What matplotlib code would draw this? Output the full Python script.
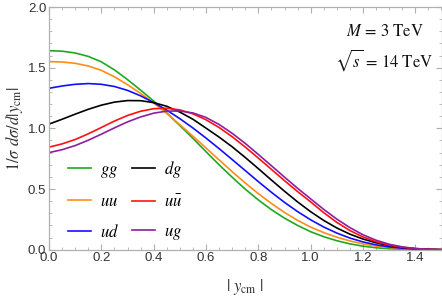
import matplotlib
matplotlib.use("Agg")
import matplotlib.pyplot as plt
from matplotlib.ticker import MultipleLocator

plt.rcParams['mathtext.fontset'] = 'stix'
plt.rcParams['font.family'] = ['Liberation Sans', 'DejaVu Sans']

y_cm = [0.00, 0.05, 0.10, 0.15, 0.20, 0.25, 0.30, 0.35, 0.40, 0.45, 0.50,
        0.55, 0.60, 0.65, 0.70, 0.75, 0.80, 0.85, 0.90, 0.95, 1.00,
        1.05, 1.10, 1.15, 1.20, 1.25, 1.30, 1.35, 1.40, 1.45, 1.50]

gg = [1.640, 1.636, 1.621, 1.593, 1.548, 1.482, 1.402, 1.315, 1.225, 1.128, 1.023,
      0.918, 0.808, 0.700, 0.597, 0.499, 0.410, 0.330, 0.260, 0.200, 0.148,
      0.107, 0.074, 0.048, 0.029, 0.016, 0.008, 0.004, 0.002, 0.001, 0.000]
uu = [1.550, 1.547, 1.536, 1.514, 1.478, 1.425, 1.360, 1.288, 1.209, 1.123, 1.030,
      0.935, 0.838, 0.740, 0.643, 0.550, 0.462, 0.381, 0.307, 0.242, 0.186,
      0.141, 0.103, 0.072, 0.048, 0.030, 0.018, 0.010, 0.005, 0.002, 0.001]
ud = [1.330, 1.349, 1.363, 1.369, 1.363, 1.345, 1.313, 1.268, 1.213, 1.150, 1.080,
      1.003, 0.920, 0.833, 0.743, 0.652, 0.561, 0.473, 0.390, 0.314, 0.246,
      0.187, 0.137, 0.096, 0.064, 0.040, 0.023, 0.012, 0.005, 0.002, 0.000]
dg = [1.035, 1.075, 1.117, 1.157, 1.191, 1.216, 1.229, 1.228, 1.212, 1.182, 1.134,
      1.075, 1.002, 0.928, 0.848, 0.760, 0.668, 0.574, 0.482, 0.394, 0.313,
      0.241, 0.179, 0.128, 0.088, 0.057, 0.034, 0.018, 0.008, 0.003, 0.000]
uubar = [0.845, 0.872, 0.908, 0.955, 1.007, 1.060, 1.106, 1.141, 1.162, 1.166, 1.152,
         1.120, 1.071, 1.007, 0.931, 0.846, 0.755, 0.662, 0.569, 0.479, 0.394,
         0.305, 0.225, 0.158, 0.105, 0.066, 0.038, 0.020, 0.009, 0.003, 0.000]
ug = [0.800, 0.824, 0.858, 0.902, 0.952, 1.004, 1.053, 1.094, 1.125, 1.142, 1.143,
      1.127, 1.090, 1.032, 0.959, 0.876, 0.785, 0.692, 0.598, 0.506, 0.419,
      0.332, 0.252, 0.182, 0.123, 0.078, 0.045, 0.023, 0.010, 0.003, 0.000]

series = [
    (r'$gg$', gg, '#1fa81f'),
    (r'$uu$', uu, '#ff8c1a'),
    (r'$ud$', ud, '#1010ff'),
    (r'$dg$', dg, '#000000'),
    (r'$u\bar{u}$', uubar, '#ff1010'),
    (r'$ug$', ug, '#8e1e9e'),
]

fig = plt.figure(figsize=(4.42, 2.96), dpi=100)
ax = fig.add_axes([49/442, (296-249.7)/296, (441.5-49)/442, (249.7-7)/296])

handles = []
for lab, vals, col in series:
    h, = ax.plot(y_cm, vals, color=col, lw=1.2, label=lab)
    handles.append(h)

ax.set_xlim(0, 1.5)
ax.set_ylim(0, 2.0)
ax.xaxis.set_major_locator(MultipleLocator(0.2))
ax.xaxis.set_minor_locator(MultipleLocator(0.05))
ax.yaxis.set_major_locator(MultipleLocator(0.5))
ax.yaxis.set_minor_locator(MultipleLocator(0.1))
ax.xaxis.set_major_formatter(plt.FuncFormatter(lambda v, p: f'{v:.1f}'))
ax.yaxis.set_major_formatter(plt.FuncFormatter(lambda v, p: f'{v:.1f}'))

gray = '#b0b0b0'
for s in ax.spines.values():
    s.set_color(gray)
    s.set_linewidth(0.9)
ax.tick_params(which='both', direction='in', top=True, right=True, color=gray,
               labelcolor='#333333', labelsize=9.5)
ax.tick_params(which='major', length=4, width=0.8, pad=2)
ax.tick_params(which='minor', length=2.2, width=0.6)

ax.set_xlabel(r'$|\ y_{\rm cm}\ |$', fontsize=12, color='#333333', labelpad=9)
ax.set_ylabel(r'$1/\sigma\ d\sigma/d|y_{\rm cm}|$', fontsize=12, color='#333333', labelpad=2)

ax.text(0.956, 0.90, r'$M\,=\,3\ \mathrm{TeV}$', transform=ax.transAxes,
        ha='right', va='center', fontsize=12, color='#111111')
ax.text(0.978, 0.78, r'$\sqrt{s}\,=\,14\ \mathrm{TeV}$', transform=ax.transAxes,
        ha='right', va='center', fontsize=12, color='#111111')

leg = ax.legend(handles=handles, ncol=2, loc='lower left', bbox_to_anchor=(0.01, -0.03),
                frameon=False, prop={'size': 12}, handlelength=1.4, handletextpad=0.5,
                columnspacing=0.8, labelspacing=0.85)

fig.savefig('out.png', dpi=100)
